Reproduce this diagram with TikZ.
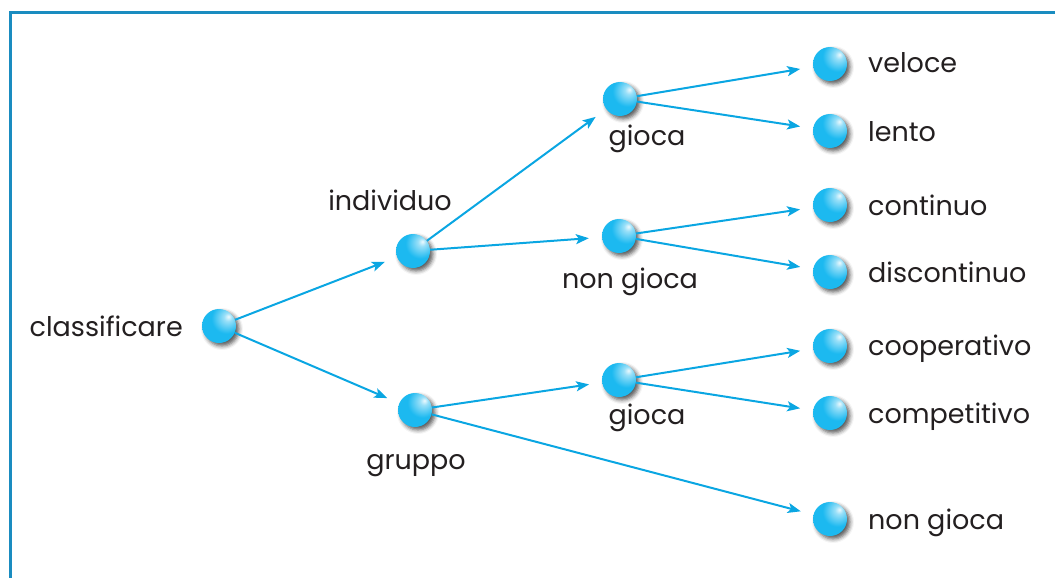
\documentclass[tikz,border=0pt]{standalone}
\usepackage{fontspec}
\setmainfont{Poppins}
\usetikzlibrary{arrows.meta,shadows.blur}
\definecolor{framecol}{HTML}{1A8CC0}
\definecolor{linkcol}{HTML}{0AA6E2}
\definecolor{ballcol}{HTML}{1CB9F0}
\definecolor{balldark}{HTML}{0A9ED8}
\definecolor{txtcol}{HTML}{231F20}
% glossy sphere: white highlight to the upper right, cyan body
\pgfdeclareradialshading{glossball}{\pgfpoint{14bp}{14bp}}{%
  color(0bp)=(white!92!ballcol);
  color(6bp)=(white!55!ballcol);
  color(22bp)=(ballcol);
  color(48bp)=(ballcol);
  color(62bp)=(balldark);
  color(100bp)=(balldark)}
\tikzset{
  ball/.style={circle, minimum size=34pt, inner sep=0pt, shading=glossball,
    blur shadow={shadow xshift=3pt, shadow yshift=-3pt, shadow blur radius=4pt, shadow opacity=65}},
  link/.style={draw=linkcol, line width=2pt, -{Stealth[length=13pt,width=10pt,inset=3pt]}, shorten >=13pt},
  lbl/.style={text=txtcol, font=\fontsize{27}{32}\selectfont, inner sep=0pt, anchor=base},
  rlbl/.style={lbl, anchor=base west},
}
\begin{document}
\begin{tikzpicture}[x=1pt,y=-1pt]
\useasboundingbox (0,0) rectangle (1055,578);
% frame
\draw[framecol, line width=3pt] (10.5,590) -- (10.5,12.5) -- (1070,12.5);

% balls
\node[ball] (root) at (219,326) {};
\node[ball] (ind) at (413,251) {};
\node[ball] (grp) at (415,410) {};
\node[ball] (ig) at (620,99) {};
\node[ball] (ing) at (619,236) {};
\node[ball] (gg) at (619,380) {};
\node[ball] (vel) at (830,64) {};
\node[ball] (len) at (830,131) {};
\node[ball] (con) at (830,205) {};
\node[ball] (dis) at (830,272) {};
\node[ball] (coo) at (830,346) {};
\node[ball] (com) at (830,413) {};
\node[ball] (gng) at (830,519) {};

% links
\draw[link] (root) -- (ind);
\draw[link] (root) -- (grp);
\draw[link] (ind) -- (ig);
\draw[link] (ind) -- (ing);
\draw[link] (grp) -- (gg);
\draw[link] (grp) -- (gng);
\draw[link] (ig) -- (vel);
\draw[link] (ig) -- (len);
\draw[link] (ing) -- (con);
\draw[link] (ing) -- (dis);
\draw[link] (gg) -- (coo);
\draw[link] (gg) -- (com);

% labels
\node[lbl, anchor=base east] (troot) at (183,336) {classificare};
\node[lbl] (tind) at (390,210) {individuo};
\node[lbl] (tgrp) at (416,469) {gruppo};
\node[lbl] (tig) at (647,145) {gioca};
\node[lbl] (ting) at (630,288) {non gioca};
\node[lbl] (tgg) at (647,424) {gioca};
\node[rlbl] (tvel) at (868,73) {veloce};
\node[rlbl] (tlen) at (868,141) {lento};
\node[rlbl] (tcon) at (868,215) {continuo};
\node[rlbl] (tdis) at (868,282) {discontinuo};
\node[rlbl] (tcoo) at (868,355) {cooperativo};
\node[rlbl] (tcom) at (868,423) {competitivo};
\node[rlbl] (tgng) at (868,529) {non gioca};
\end{tikzpicture}
\end{document}
